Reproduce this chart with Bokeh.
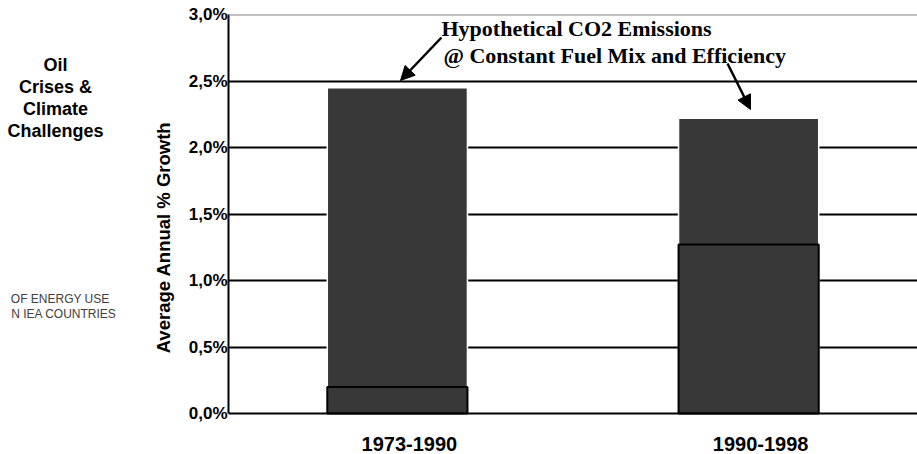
from bokeh.plotting import figure
from bokeh.layouts import row
from bokeh.models import (FactorRange, Range1d, FixedTicker, Span, Label, LabelSet,
                          ColumnDataSource, Arrow, NormalHead)
from bokeh.core.properties import value
from bokeh.embed import file_html
from bokeh.resources import INLINE
import math

# ---- data ----
categories = ["1973-1990", "1990-1998"]
hypothetical = [2.45, 2.22]   # hypothetical CO2 emissions growth @ constant fuel mix & efficiency
actual = [0.20, 1.27]         # actual CO2 emissions growth
y_ticks = [0.0, 0.5, 1.0, 1.5, 2.0, 2.5, 3.0]
y_tick_labels = ["0,0%", "0,5%", "1,0%", "1,5%", "2,0%", "2,5%", "3,0%"]
title_lines = ["Oil", "Crises &", "Climate", "Challenges"]
side_lines = ["OF ENERGY USE", "N IEA COUNTRIES"]

BAR = "#383838"
SANS = "Liberation Sans"
SERIF = "Liberation Serif"
W, H = 917, 454
LEFT_W = 180
TOP = 14

# ---------- left panel (side texts) ----------
left = figure(width=LEFT_W, height=H, output_backend="svg", toolbar_location=None,
              x_range=Range1d(0, LEFT_W), y_range=Range1d(0, H - TOP),
              x_axis_location=None, y_axis_location=None)
left.min_border_left = 0
left.min_border_right = 0
left.min_border_top = TOP
left.min_border_bottom = 0
left.outline_line_color = None
left.grid.visible = False

for i, line in enumerate(title_lines):
    left.add_layout(Label(x=55, y=390 - 22 * i, text=line, text_align="center",
                          text_baseline="middle", text_font=SANS, text_font_style="bold",
                          text_font_size="18px", text_color="black"))

for line, xr, yy in zip(side_lines, [109, 116], [156, 141]):
    left.add_layout(Label(x=xr, y=yy, text=line, text_align="right", text_baseline="middle",
                          text_font=SANS, text_font_size="12px", text_color="#404040"))

left.add_layout(Label(x=163, y=217, angle=math.pi / 2, text="Average Annual % Growth",
                      text_align="center", text_baseline="middle", text_font=SANS,
                      text_font_style="bold", text_font_size="18.5px", text_color="black"))

# ---------- main chart ----------
p = figure(width=W - LEFT_W, height=H, output_backend="svg", toolbar_location=None,
           x_range=FactorRange(factors=categories, factor_padding=0.04, range_padding=0),
           y_range=Range1d(-0.308, 3.0))
p.min_border_left = 228 - LEFT_W
p.min_border_right = 0
p.min_border_top = TOP
p.min_border_bottom = 0
p.outline_line_color = None

# grid
p.xgrid.visible = False
p.ygrid.ticker = FixedTicker(ticks=y_ticks[1:-1])
p.ygrid.grid_line_color = "black"
p.ygrid.grid_line_width = 2
p.add_layout(Span(location=y_ticks[-1], dimension="width", line_color="#808080", line_width=2))
p.add_layout(Span(location=y_ticks[0], dimension="width", line_color="black", line_width=2))

# axes
p.xaxis.visible = False
ya = p.yaxis[0]
ya.bounds = (y_ticks[0], y_ticks[-1])
ya.ticker = FixedTicker(ticks=y_ticks)
ya.major_label_overrides = {t: s for t, s in zip(y_ticks, y_tick_labels)}
ya.major_label_text_font = SANS
ya.major_label_text_font_style = "bold"
ya.major_label_text_font_size = "17px"
ya.major_label_text_color = "black"
ya.major_label_standoff = 1
ya.major_tick_out = 0
ya.major_tick_in = 0
ya.minor_tick_out = 0
ya.minor_tick_in = 0
ya.axis_line_color = "black"
ya.axis_line_width = 2

# bars
p.vbar(x=categories, top=hypothetical, width=0.415, fill_color=BAR,
       line_color="white", line_width=1.5)
p.vbar(x=categories, top=actual, width=0.415, fill_color=BAR,
       line_color="black", line_width=2)

# category labels
src = ColumnDataSource(dict(x=categories, y=[y_ticks[0]] * len(categories), t=categories))
p.add_layout(LabelSet(x="x", y="y", text="t", source=src, x_offset=12, y_offset=-30,
                      text_align="center", text_baseline="middle",
                      text_font=value(SANS), text_font_style="bold", text_font_size="20px",
                      text_color="black"))

# annotation (screen units, relative to the plot frame: y measured up from its bottom)
p.add_layout(Label(x=213, y=426, x_units="screen", y_units="screen",
                   text="Hypothetical CO2 Emissions", text_align="left", text_baseline="middle",
                   text_font=SERIF, text_font_style="bold", text_font_size="22px",
                   text_color="black"))
p.add_layout(Label(x=215, y=399, x_units="screen", y_units="screen",
                   text="@ Constant Fuel Mix and Efficiency", text_align="left",
                   text_baseline="middle", text_font=SERIF, text_font_style="bold",
                   text_font_size="22px", text_color="black"))

for (xs, ys, xe, ye) in [(213, 417, 172, 374), (499, 391, 522, 345)]:
    p.add_layout(Arrow(x_start=xs, y_start=ys, x_end=xe, y_end=ye,
                       start_units="screen", end_units="screen",
                       line_color="black", line_width=2.5,
                       end=NormalHead(size=14, fill_color="black", line_color="black")))

layout = row(left, p, spacing=0)
open("out.html", "w").write(file_html(layout, INLINE))
